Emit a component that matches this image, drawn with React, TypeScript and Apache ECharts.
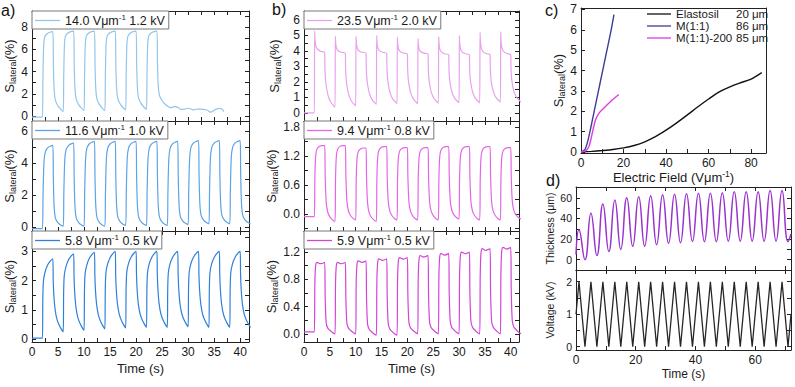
import React, { useEffect, useRef } from "react";
import * as echarts from "echarts";

type Pt = [number, number];

const FONT = '"Liberation Sans", Arial, Helvetica, sans-serif';
const AXIS = "#222";
const TXT = "#1a1a1a";

// ---------------- legends / names ----------------
const A_NAMES = ["14.0 Vμm-1 1.2 kV", "11.6 Vμm-1 1.0 kV", "5.8 Vμm-1 0.5 kV"];
const B_NAMES = ["23.5 Vμm-1 2.0 kV", "9.4 Vμm-1 0.8 kV", "5.9 Vμm-1 0.5 kV"];
const C_NAMES = ["Elastosil", "M(1:1)", "M(1:1)-200"];
const C_THICK = ["20 μm", "86 μm", "85 μm"];

// ---------------- panel a / b pulse data ----------------
const ON_TIMES = [2, 6, 10, 14, 18, 22, 26, 30, 34, 38];
const A1_ON_TIMES = [2, 6, 10, 14, 18, 22];

const A1_HIGH = [7.6, 7.65, 7.65, 7.65, 7.65, 7.65];
const A1_LOW = [-0.1, 0.4, 0.5, 0.5, 0.55, 0.6, 0.9];
const A1_TAIL: Pt[] = [
  [26.7, 0.75], [27.4, 0.85], [28, 0.8], [28.6, 0.6], [29.3, 0.62], [30.1, 0.7],
  [31, 0.55], [31.7, 0.62], [32.4, 0.62], [33.6, 0.54], [34.3, 0.35], [35.3, 0.6],
  [36.2, 0.68], [36.9, 0.4],
];
const A2_HIGH = [5.1, 5.25, 5.35, 5.35, 5.35, 5.35, 5.35, 5.4, 5.4, 5.4];
const A2_LOW = [-0.1, 0.05, 0.05, 0.05, 0.1, 0.1, 0.1, 0.15, 0.2, 0.2, 0.2];
const A3_HIGH = [2.75, 2.92, 2.97, 3.0, 3.0, 3.0, 3.0, 3.0, 3.0, 3.0];
const A3_LOW = [0.03, 0.25, 0.3, 0.35, 0.38, 0.4, 0.4, 0.42, 0.4, 0.4, 0.4];

const B1_SPIKE = [5.3, 4.95, 4.95, 5.0, 4.9, 4.8, 4.93, 5.0, 5.2, 5.25];
const B1_HIGH = [3.9, 3.85, 3.85, 3.85, 3.8, 3.8, 3.75, 3.75, 3.75, 3.75];
const B1_LOW = [0, 0.37, 0.45, 0.55, 0.6, 0.6, 0.63, 0.65, 0.65, 0.7, 0.7];
const B2_HIGH = [1.42, 1.42, 1.37, 1.4, 1.38, 1.38, 1.4, 1.4, 1.4, 1.38];
const B2_LOW = [-0.05, -0.15, -0.12, -0.15, -0.12, -0.12, -0.12, -0.1, -0.12, -0.12, -0.1];
const B3_HIGH = [1.05, 1.05, 1.07, 1.1, 1.12, 1.15, 1.18, 1.2, 1.25, 1.27];
const B3_LOW = [0.03, 0, 0, -0.02, -0.02, 0, 0, 0, 0, 0, 0];

const A1_RISE: Pt[] = [[0, 0], [0.1, 0.45], [0.25, 0.85], [0.45, 0.94], [0.8, 0.97], [1.3, 0.99], [2, 1]];
const A1_FALL: Pt[] = [[0, 1], [0.12, 0.55], [0.28, 0.25], [0.5, 0.14], [1.0, 0.07], [1.5, 0.03], [2, 0]];
const A2_RISE: Pt[] = [[0, 0], [0.12, 0.4], [0.3, 0.8], [0.55, 0.92], [1.0, 0.97], [1.5, 0.99], [2, 1]];
const A2_FALL: Pt[] = [[0, 1], [0.1, 0.6], [0.25, 0.25], [0.5, 0.1], [1.0, 0.04], [1.5, 0.015], [2, 0]];
const A3_RISE: Pt[] = [[0, 0], [0.08, 0.5], [0.2, 0.72], [0.5, 0.83], [1.0, 0.92], [1.5, 0.97], [2, 1]];
const A3_FALL: Pt[] = [[0, 1], [0.08, 0.7], [0.2, 0.5], [0.45, 0.3], [0.8, 0.17], [1.3, 0.08], [2, 0]];
const B1_DECAY: Pt[] = [[0.06, 1], [0.15, 0.55], [0.3, 0.3], [0.6, 0.15], [1.2, 0.06], [2, 0]];
const B1_FALL: Pt[] = [[0, 1], [0.05, 0.72], [0.15, 0.52], [0.35, 0.36], [0.7, 0.2], [1.2, 0.09], [2, 0]];
const B2_RISE: Pt[] = [[0, 0], [0.1, 0.55], [0.25, 0.85], [0.5, 0.95], [1.0, 0.99], [1.5, 1.0], [2, 1]];
const B2_FALL: Pt[] = [[0, 1], [0.1, 0.6], [0.3, 0.25], [0.6, 0.12], [1.0, 0.06], [1.5, 0.02], [2, 0]];
const B3_RISE: Pt[] = [[0, 0], [0.1, 0.7], [0.25, 0.95], [0.5, 1.0], [1.2, 0.98], [2, 1]];
const B3_FALL: Pt[] = [[0, 1], [0.1, 0.5], [0.3, 0.15], [0.6, 0.08], [1.0, 0.05], [1.5, 0.02], [2, 0]];

// ---------------- panel c ----------------
const C_ELASTOSIL: Pt[] = [
  [0, 0], [5, 0.03], [10, 0.07], [15, 0.12], [20, 0.2], [25, 0.32], [30, 0.5], [35, 0.75],
  [40, 1.07], [45, 1.43], [50, 1.82], [55, 2.22], [60, 2.6], [65, 2.95], [70, 3.2],
  [75, 3.4], [80, 3.58], [85, 3.9],
];
const C_M11: Pt[] = [[0, 0], [2, 0.15], [4, 0.9], [6, 1.9], [8, 2.9], [10, 3.9], [12, 4.9], [14, 5.9], [15.5, 6.75]];
const C_M11_200: Pt[] = [[0, 0], [2, 0.05], [3.7, 0.26], [5.3, 0.92], [6.8, 1.57], [8.4, 1.9], [10.7, 2.15], [13.8, 2.47], [17.8, 2.82]];

// ---------------- panel d ----------------
const D_PERIOD = 4;
const D_THICK_START = 5;
const D_THICK_END = 25;
const D_THICK_PEAKS = [29, 45, 54, 58, 60, 61, 62, 63, 63.5, 64, 64.5, 64.5, 65, 66, 66, 66, 67, 67];
const D_THICK_TROUGHS = [0, 4, 8, 10, 13, 13, 14.5, 16, 16.5, 17.7, 17.5, 17.5, 18, 18, 18, 18, 18, 17.5];
const D_VOLT_START = 1.0;
const D_VOLT_END = 1.0;
const D_VOLT_PEAKS = [2, 2, 2, 2, 2, 2, 2, 2, 2, 2, 2, 2, 2, 2, 2, 2, 2, 2];
const D_VOLT_TROUGHS = [0, 0, 0, 0, 0, 0, 0, 0, 0, 0, 0, 0, 0, 0, 0, 0, 0, 0];

// ---------------- ticks ----------------
const AB_X_TICKS = [0, 2.5, 5, 7.5, 10, 12.5, 15, 17.5, 20, 22.5, 25, 27.5, 30, 32.5, 35, 37.5, 40];
const AB_X_LABELS = [0, 5, 10, 15, 20, 25, 30, 35, 40];
const A1_Y_TICKS = [0, 1, 2, 3, 4, 5, 6, 7, 8, 9];
const A1_Y_LABELS = [0, 2, 4, 6, 8];
const A2_Y_TICKS = [0, 1, 2, 3, 4, 5, 6];
const A2_Y_LABELS = [0, 2, 4, 6];
const A3_Y_TICKS = [0, 0.5, 1, 1.5, 2, 2.5, 3, 3.5];
const A3_Y_LABELS = [0, 1, 2, 3];
const B1_Y_TICKS = [0, 0.5, 1, 1.5, 2, 2.5, 3, 3.5, 4, 4.5, 5, 5.5, 6, 6.5];
const B1_Y_LABELS = [0, 1, 2, 3, 4, 5, 6];
const B2_Y_TICKS = [-0.3, 0, 0.3, 0.6, 0.9, 1.2, 1.5, 1.8];
const B2_Y_LABELS = [0, 0.6, 1.2, 1.8];
const B3_Y_TICKS = [0, 0.2, 0.4, 0.6, 0.8, 1.0, 1.2, 1.4];
const B3_Y_LABELS = [0, 0.4, 0.8, 1.2];
const C_X_TICKS = [0, 10, 20, 30, 40, 50, 60, 70, 80];
const C_X_LABELS = [0, 20, 40, 60, 80];
const C_Y_TICKS = [0, 1, 2, 3, 4, 5, 6, 7];
const C_Y_LABELS = [0, 1, 2, 3, 4, 5, 6, 7];
const D_X_TICKS = [0, 10, 20, 30, 40, 50, 60, 70];
const D_X_LABELS = [0, 20, 40, 60];
const D1_Y_TICKS = [0, 10, 20, 30, 40, 50, 60, 70];
const D1_Y_LABELS = [0, 20, 40, 60];
const D2_Y_TICKS = [0, 0.5, 1, 1.5, 2];
const D2_Y_LABELS = [0, 1, 2];

// ---------------- builders ----------------
function pushPt(pts: Pt[], p: Pt) {
  const last = pts[pts.length - 1];
  if (last && Math.abs(last[0] - p[0]) < 1e-9) return;
  pts.push(p);
}

function pulseTrain(
  on: number[], high: number[], low: number[], rise: Pt[] | null, fall: Pt[],
  spike?: number[], decay?: Pt[]
): Pt[] {
  const pts: Pt[] = [[0, low[0]]];
  on.forEach((t0, i) => {
    const lo = low[i];
    const hi = high[i];
    const nx = low[i + 1];
    if (spike && decay) {
      pushPt(pts, [t0, lo]);
      decay.forEach(([dt, d]) => pushPt(pts, [t0 + dt, hi + d * (spike[i] - hi)]));
    } else if (rise) {
      rise.forEach(([dt, f]) => pushPt(pts, [t0 + dt, lo + f * (hi - lo)]));
    }
    fall.forEach(([dt, f]) => pushPt(pts, [t0 + 2 + dt, nx + f * (hi - nx)]));
  });
  return pts;
}

function extremaTrain(start: number, peaks: number[], troughs: number[], end: number, tEnd: number): Pt[] {
  const pts: Pt[] = [[0, start]];
  peaks.forEach((p, i) => {
    pts.push([1 + i * D_PERIOD, p]);
    pts.push([3 + i * D_PERIOD, troughs[i]]);
  });
  pts.push([tEnd, end]);
  return pts;
}

const supRich = {
  t: { fontSize: 12.5, lineHeight: 15, fontFamily: FONT, color: TXT },
  sup: { fontSize: 8, lineHeight: 8, verticalAlign: "top", fontFamily: FONT, color: TXT },
};

function supFormat(name: string) {
  const k = name.indexOf("Vμm-1");
  if (k < 0) return `{t|${name}}`;
  return `{t|${name.slice(0, k)}Vμm}{sup|-1}{t|${name.slice(k + 5)}}`;
}

const SLAT = "{t|S}{sub|lateral}{t|(%)}";
const slatStyle = {
  color: TXT,
  fontSize: 13,
  rich: {
    t: { fontSize: 13, lineHeight: 16, fontFamily: FONT, color: TXT },
    sub: { fontSize: 9, lineHeight: 9, verticalAlign: "bottom", fontFamily: FONT, color: TXT },
  },
};

interface PanelCfg {
  left: number; top: number; width: number; height: number;
  xr: [number, number]; yr: [number, number];
  xTicks: number[]; xLabels: number[]; showXLabels: boolean;
  yTicks: number[]; yLabels: number[];
  yFmt?: (v: number) => string;
  xName?: string; xNameGap?: number; xNameStyle?: any;
  yName?: string; yNameGap?: number; yNameStyle?: any;
  xFont?: number; yFont?: number;
  topTicks?: boolean; rightTicks?: boolean;
}

function buildOption() {
  const grids: any[] = [];
  const xAxes: any[] = [];
  const yAxes: any[] = [];
  const series: any[] = [];
  const legends: any[] = [];

  const addPanel = (c: PanelCfg) => {
    const g = grids.length;
    grids.push({ left: c.left, top: c.top, width: c.width, height: c.height, show: false, containLabel: false, outerBoundsMode: "none" });
    const lineStyle = { color: AXIS, width: 1 };
    const base = { type: "value", gridIndex: g, splitLine: { show: false }, minorTick: { show: false } };
    const xi = xAxes.length;
    xAxes.push({
      ...base, min: c.xr[0], max: c.xr[1], position: "bottom",
      axisLine: { show: true, onZero: false, lineStyle },
      axisTick: { show: true, inside: true, length: 4, customValues: c.xTicks, lineStyle },
      axisLabel: { show: c.showXLabels, customValues: c.xLabels, fontSize: c.xFont ?? 12, color: TXT, margin: 4, fontFamily: FONT },
      name: c.xName, nameLocation: "middle", nameGap: c.xNameGap ?? 20, nameTextStyle: c.xNameStyle,
    });
    xAxes.push({
      ...base, min: c.xr[0], max: c.xr[1], position: "top",
      axisLine: { show: true, onZero: false, lineStyle },
      axisTick: { show: c.topTicks !== false, inside: true, length: 4, customValues: c.xTicks, lineStyle },
      axisLabel: { show: false },
    });
    const yi = yAxes.length;
    yAxes.push({
      ...base, min: c.yr[0], max: c.yr[1], position: "left",
      axisLine: { show: true, onZero: false, lineStyle },
      axisTick: { show: true, inside: true, length: 4, customValues: c.yTicks, lineStyle },
      axisLabel: {
        show: true, customValues: c.yLabels, fontSize: c.yFont ?? 12, color: TXT, margin: 4, fontFamily: FONT,
        formatter: c.yFmt ?? ((v: number) => String(v)),
      },
      name: c.yName, nameLocation: "middle", nameGap: c.yNameGap ?? 12, nameTextStyle: c.yNameStyle,
    });
    yAxes.push({
      ...base, min: c.yr[0], max: c.yr[1], position: "right",
      axisLine: { show: true, onZero: false, lineStyle },
      axisTick: { show: c.rightTicks !== false, inside: true, length: 4, customValues: c.yTicks, lineStyle },
      axisLabel: { show: false },
    });
    return { xi, yi };
  };

  const addLine = (ax: { xi: number; yi: number }, name: string, data: Pt[], color: string, width: number, smooth: number | boolean = 0.3) => {
    series.push({
      type: "line", name, xAxisIndex: ax.xi, yAxisIndex: ax.yi, data,
      symbol: "none", showSymbol: false, smooth, clip: true, silent: true,
      lineStyle: { color, width }, itemStyle: { color }, z: 2,
    });
  };

  const addBoxLegend = (name: string, left: number, top: number) => {
    legends.push({
      show: true, data: [name], left, top, orient: "horizontal",
      padding: [2, 4, 2, 3], icon: "rect", itemWidth: 25, itemHeight: 1.3, itemGap: 0,
      borderColor: "#777", borderWidth: 1, backgroundColor: "#fff", borderRadius: 0,
      selectedMode: false, formatter: (n: string) => supFormat(n),
      textStyle: { fontSize: 12.5, color: TXT, fontFamily: FONT, rich: supRich },
    });
  };

  // ---------- panel a ----------
  const AX_L = 32, AX_W = 217, BX_L = 304, BX_W = 215;
  const TOPS = [11, 121, 231];
  const HS = [110, 110, 111];
  const XR: [number, number] = [0, 41.7];
  const XRB: [number, number] = [0, 41.6];
  const timeName = { color: TXT, fontSize: 13, fontFamily: FONT };

  const aY: [number, number][] = [[-0.45, 9.46], [-0.25, 6.63], [-0.1, 3.7]];
  const aYT = [A1_Y_TICKS, A2_Y_TICKS, A3_Y_TICKS];
  const aYL = [A1_Y_LABELS, A2_Y_LABELS, A3_Y_LABELS];
  const aCol = ["#92c6ec", "#5ca4e6", "#2f80da"];
  const aData = [
    pulseTrain(A1_ON_TIMES, A1_HIGH, A1_LOW, A1_RISE, A1_FALL).concat(A1_TAIL),
    pulseTrain(ON_TIMES, A2_HIGH, A2_LOW, A2_RISE, A2_FALL),
    pulseTrain(ON_TIMES, A3_HIGH, A3_LOW, A3_RISE, A3_FALL),
  ];
  for (let i = 0; i < 3; i++) {
    const ax = addPanel({
      left: AX_L, top: TOPS[i], width: AX_W, height: HS[i], xr: XR, yr: aY[i],
      xTicks: AB_X_TICKS, xLabels: AB_X_LABELS, showXLabels: i === 2,
      yTicks: aYT[i], yLabels: aYL[i],
      xName: i === 2 ? "Time (s)" : undefined, xNameGap: 20, xNameStyle: timeName,
      yName: SLAT, yNameGap: 12, yNameStyle: slatStyle,
    });
    addLine(ax, A_NAMES[i], aData[i], aCol[i], 1.2);
    addBoxLegend(A_NAMES[i], AX_L, TOPS[i]);
  }

  // ---------- panel b ----------
  const bY: [number, number][] = [[-0.52, 6.58], [-0.35, 1.93], [-0.12, 1.51]];
  const bYT = [B1_Y_TICKS, B2_Y_TICKS, B3_Y_TICKS];
  const bYL = [B1_Y_LABELS, B2_Y_LABELS, B3_Y_LABELS];
  const bFmt = [(v: number) => String(v), (v: number) => v.toFixed(1), (v: number) => v.toFixed(1)];
  const bCol = ["#e8a2ec", "#e466e6", "#d444d6"];
  const bData = [
    pulseTrain(ON_TIMES, B1_HIGH, B1_LOW, null, B1_FALL, B1_SPIKE, B1_DECAY),
    pulseTrain(ON_TIMES, B2_HIGH, B2_LOW, B2_RISE, B2_FALL),
    pulseTrain(ON_TIMES, B3_HIGH, B3_LOW, B3_RISE, B3_FALL),
  ];
  for (let i = 0; i < 3; i++) {
    const ax = addPanel({
      left: BX_L, top: TOPS[i], width: BX_W, height: HS[i], xr: XRB, yr: bY[i],
      xTicks: AB_X_TICKS, xLabels: AB_X_LABELS, showXLabels: i === 2,
      yTicks: bYT[i], yLabels: bYL[i], yFmt: bFmt[i],
      xName: i === 2 ? "Time (s)" : undefined, xNameGap: 20, xNameStyle: timeName,
      yName: SLAT, yNameGap: 22, yNameStyle: slatStyle,
    });
    addLine(ax, B_NAMES[i], bData[i], bCol[i], 1.2);
    addBoxLegend(B_NAMES[i], BX_L, TOPS[i]);
  }

  // ---------- panel c ----------
  const cAx = addPanel({
    left: 581, top: 8, width: 185, height: 145, xr: [0, 87], yr: [-0.05, 7.07],
    xTicks: C_X_TICKS, xLabels: C_X_LABELS, showXLabels: true,
    yTicks: C_Y_TICKS, yLabels: C_Y_LABELS,
    xName: "{t|Electric Field (Vμm}{sup|-1}{t|)}", xNameGap: 14,
    xNameStyle: {
      color: TXT, fontSize: 13,
      rich: {
        t: { fontSize: 13, lineHeight: 16, fontFamily: FONT, color: TXT },
        sup: { fontSize: 8.5, lineHeight: 8, verticalAlign: "top", fontFamily: FONT, color: TXT },
      },
    },
    yName: SLAT, yNameGap: 14, yNameStyle: slatStyle,
    topTicks: false, rightTicks: false,
  });
  const cCol = ["#111118", "#3d3d92", "#e03ce2"];
  const cData = [C_ELASTOSIL, C_M11, C_M11_200];
  for (let i = 0; i < 3; i++) addLine(cAx, C_NAMES[i], cData[i], cCol[i], 1.4, 0.3);
  legends.push({
    show: true, data: C_NAMES, left: 647, top: 8, orient: "vertical", padding: 0,
    icon: "rect", itemWidth: 24, itemHeight: 1.3, itemGap: 0, selectedMode: false,
    formatter: (n: string) => `{n|${n}}{v|${C_THICK[C_NAMES.indexOf(n)]}}`,
    textStyle: {
      fontSize: 11.5, color: TXT, fontFamily: FONT,
      rich: {
        n: { fontSize: 11.5, width: 60, lineHeight: 13.5, fontFamily: FONT, color: TXT },
        v: { fontSize: 11.5, lineHeight: 13.5, fontFamily: FONT, color: TXT },
      },
    },
  });

  // ---------- panel d ----------
  const smallName = { color: TXT, fontSize: 10.5, fontFamily: FONT };
  const d1 = addPanel({
    left: 576, top: 187, width: 215, height: 83, xr: [0, 72], yr: [-10, 70.5],
    xTicks: D_X_TICKS, xLabels: D_X_LABELS, showXLabels: false,
    yTicks: D1_Y_TICKS, yLabels: D1_Y_LABELS, yFont: 10.5,
    yName: "Thickness (μm)", yNameGap: 21, yNameStyle: smallName,
  });
  addLine(d1, "Thickness", extremaTrain(D_THICK_START, D_THICK_PEAKS, D_THICK_TROUGHS, D_THICK_END, 72), "#9a32cc", 1.5, 0.5);
  const d2 = addPanel({
    left: 576, top: 270, width: 215, height: 80, xr: [0, 72], yr: [-0.1, 2.36],
    xTicks: D_X_TICKS, xLabels: D_X_LABELS, showXLabels: true, xFont: 12,
    yTicks: D2_Y_TICKS, yLabels: D2_Y_LABELS, yFont: 10.5,
    xName: "Time (s)", xNameGap: 18, xNameStyle: { color: TXT, fontSize: 12, fontFamily: FONT },
    yName: "Voltage (kV)", yNameGap: 21, yNameStyle: smallName,
  });
  addLine(d2, "Voltage", extremaTrain(D_VOLT_START, D_VOLT_PEAKS, D_VOLT_TROUGHS, D_VOLT_END, 72), "#262626", 1.3, false);

  const title = (text: string, left: number, top: number) => ({
    type: "text", left, top, z: 10,
    style: { text, fontSize: 16, fontFamily: FONT, fill: "#111" },
  });

  return {
    animation: false,
    backgroundColor: "#fff",
    textStyle: { fontFamily: FONT },
    grid: grids,
    xAxis: xAxes,
    yAxis: yAxes,
    legend: legends,
    series,
    graphic: [title("a)", 1, 2), title("b)", 272, 1), title("c)", 545, 2), title("d)", 546, 172)],
  };
}

export default function App() {
  const ref = useRef<HTMLDivElement>(null);
  useEffect(() => {
    document.body.style.margin = "0";
    if (!ref.current) return;
    const chart = echarts.init(ref.current, null, { renderer: "svg", width: 795, height: 387 });
    chart.setOption(buildOption() as any);
    return () => chart.dispose();
  }, []);
  return <div ref={ref} style={{ width: 795, height: 387 }} />;
}
